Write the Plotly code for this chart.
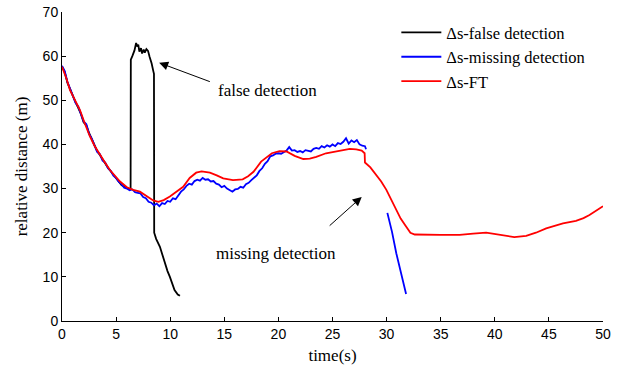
import plotly.graph_objects as go

# ---- data ----
ft_t = [0, 0.4, 0.74, 1.2, 1.66, 2.1, 2.58, 3.0, 3.5, 4.0, 4.43, 4.9, 5.36, 6.0, 6.58, 7.2, 7.8, 8.43, 8.9, 9.4,
        9.97, 10.6, 11.2, 11.8, 12.4, 12.9, 13.67, 14.3, 14.9, 15.8, 16.7, 17.2, 17.7, 18.4, 19.0, 19.4, 20.1, 20.75,
        21.5, 22.3, 22.9, 23.5, 24.4, 25.5, 26.6, 27.2, 27.7, 27.97, 28.0, 28.5, 29.06, 29.5, 29.98, 30.4, 30.9, 31.3,
        31.8, 32.2, 32.6, 33.5, 35.0, 36.75, 37.05, 38.0, 39.2, 40.1, 41.0, 41.8, 42.9, 43.8, 44.75, 45.5, 46.3,
        47.5, 48.2, 48.75, 49.5, 50.0]
ft_y = [57.6, 55.0, 52.3, 50.0, 47.8, 44.8, 41.8, 39.7, 37.6, 35.8, 34.2, 32.8, 31.6, 30.3, 29.7, 29.3, 28.3, 27.3,
        27.0, 27.4, 28.2, 29.3, 30.4, 32.4, 33.6, 33.9, 33.6, 33.0, 32.3, 31.9, 32.1, 32.8, 33.8, 36.1, 37.3, 38.0,
        38.5, 38.4, 37.4, 36.7, 36.8, 37.2, 38.0, 38.5, 39.0, 38.9, 38.6, 38.0, 35.9, 34.8, 33.1, 31.6, 29.7, 27.6,
        25.1, 23.2, 21.4, 20.0, 19.6, 19.5, 19.5, 19.5, 19.6, 19.8, 20.0, 19.7, 19.3, 19.0, 19.3, 20.0, 21.0, 21.6,
        22.1, 22.7, 23.3, 24.0, 25.1, 26.0]

md_t = [0, 0.25, 0.5, 0.75, 1.0, 1.25, 1.5, 1.75, 2.0, 2.25, 2.5, 2.75, 3.0, 3.25, 3.5, 3.75, 4.0, 4.25, 4.5, 4.75,
        5.0, 5.25, 5.5, 5.75, 6.0, 6.25, 6.5, 6.75, 7.0, 7.25, 7.5, 7.75, 8.0, 8.25, 8.5, 8.75, 9.0, 9.25, 9.5, 9.75,
        10.0, 10.25, 10.5, 10.75, 11.0, 11.25, 11.5, 11.75, 12.0, 12.25, 12.5, 12.75, 13.0, 13.25, 13.5, 13.75, 14.0,
        14.25, 14.5, 14.75, 15.0, 15.25, 15.5, 15.75, 16.0, 16.25, 16.5, 16.75, 17.0, 17.25, 17.5, 17.75, 18.0,
        18.25, 18.5, 18.75, 19.0, 19.25, 19.5, 19.75, 20.0, 20.25, 20.5, 20.75, 21.0, 21.25, 21.5, 21.75, 22.0,
        22.25, 22.5, 22.75, 23.0, 23.25, 23.5, 23.75, 24.0, 24.25, 24.5, 24.75, 25.0, 25.25, 25.5, 25.75, 26.0,
        26.25, 26.5, 26.75, 27.0, 27.25, 27.5, 27.75, 28.0, 28.1,
        None,
        30.07, 30.5, 30.9, 31.3, 31.6, 31.8]
md_y = [57.8, 56.6, 54.2, 52.6, 51.3, 49.4, 48.6, 46.8, 45.2, 44.6, 42.4, 41.3, 39.9, 38.3, 37.8, 36.3, 35.9, 34.6,
        34.0, 32.9, 32.4, 31.5, 31.0, 30.2, 30.0, 29.6, 29.8, 29.2, 29.0, 28.9, 28.1, 27.8, 27.0, 26.8, 26.2, 26.6,
        26.0, 26.7, 26.5, 27.2, 27.0, 27.8, 27.6, 28.6, 29.3, 29.8, 30.6, 31.1, 30.9, 31.7, 32.0, 31.8, 32.4, 32.0,
        32.1, 31.6, 31.7, 31.1, 30.9, 30.3, 30.6, 30.0, 29.6, 29.3, 29.8, 29.9, 30.4, 30.2, 31.0, 31.3, 31.9, 32.5,
        33.0, 34.0, 34.6, 35.6, 36.2, 37.3, 37.5, 37.9, 38.0, 37.9, 38.3, 38.6, 39.4, 38.6, 38.7, 38.3, 38.5, 38.2,
        38.7, 38.6, 38.4, 39.0, 39.2, 39.0, 39.6, 39.3, 39.8, 39.5, 40.0, 39.6, 40.3, 40.1, 40.6, 41.4, 40.2, 40.9,
        40.5, 41.0, 40.0, 39.7, 39.6, 38.9,
        None,
        24.5, 20.2, 15.3, 11.2, 8.2, 6.1]

fd_t = [0, 0.25, 0.5, 0.75, 1.0, 1.25, 1.5, 1.75, 2.0, 2.25, 2.5, 2.75, 3.0, 3.25, 3.5, 3.75, 4.0, 4.25, 4.5, 4.75,
        5.0, 5.25, 5.5, 5.75, 6.0, 6.2, 6.34, 6.36, 6.5, 6.6, 6.7, 6.85, 6.95, 7.05, 7.15, 7.3, 7.4, 7.55, 7.65,
        7.8, 7.95, 8.1, 8.28, 8.45, 8.5, 8.52, 8.7, 9.05, 9.3, 9.5, 9.75, 9.97, 10.2, 10.4, 10.7, 10.9]
fd_y = [57.7, 56.4, 54.0, 52.4, 51.1, 49.6, 48.3, 46.9, 45.0, 44.3, 42.6, 41.1, 39.8, 38.5, 37.6, 36.5, 35.7, 34.7,
        33.9, 33.1, 32.3, 31.7, 30.8, 30.4, 30.1, 29.9, 30.0, 59.2, 60.0, 60.5, 61.3, 63.0, 62.2, 62.6, 61.0, 61.8,
        60.6, 61.5, 60.8, 61.6, 61.2, 59.8, 58.4, 56.5, 56.0, 20.0, 18.6, 16.8, 14.8, 13.1, 11.3, 10.0, 8.4, 7.0,
        6.0, 5.7]

x_ticks = [0, 5, 10, 15, 20, 25, 30, 35, 40, 45, 50]
y_ticks = [0, 10, 20, 30, 40, 50, 60, 70]

serif = "Liberation Serif, Times New Roman, serif"
sans = "Liberation Sans, Arial, sans-serif"

fig = go.Figure()
fig.add_trace(go.Scatter(x=fd_t, y=fd_y, mode="lines", name="Δs-false detection",
                         line=dict(color="#000000", width=1.8)))
fig.add_trace(go.Scatter(x=md_t, y=md_y, mode="lines", name="Δs-missing detection",
                         line=dict(color="#0000ff", width=1.8), connectgaps=False))
fig.add_trace(go.Scatter(x=ft_t, y=ft_y, mode="lines", name="Δs-FT",
                         line=dict(color="#ff0000", width=1.8)))

# arrows
fig.add_annotation(x=8.98, y=58.5, ax=13.8, ay=54.1, xref="x", yref="y", axref="x", ayref="y",
                   text="", showarrow=True, arrowhead=2, arrowsize=1.8, arrowwidth=1, arrowcolor="#000")
fig.add_annotation(x=27.7, y=28.1, ax=24.6, ay=21.3, xref="x", yref="y", axref="x", ayref="y",
                   text="", showarrow=True, arrowhead=2, arrowsize=1.8, arrowwidth=1, arrowcolor="#000")
fig.add_annotation(x=19.0, y=52.3, xref="x", yref="y", text="false detection", showarrow=False,
                   font=dict(family=serif, size=17, color="#000"))
fig.add_annotation(x=19.8, y=15.4, xref="x", yref="y", text="missing detection", showarrow=False,
                   font=dict(family=serif, size=17, color="#000"))

fig.update_layout(
    width=624, height=369,
    margin=dict(l=62, r=21, t=12, b=48, autoexpand=False),
    paper_bgcolor="white", plot_bgcolor="white",
    showlegend=True,
    legend=dict(x=0.618, y=0.99, xanchor="left", yanchor="top", bgcolor="rgba(0,0,0,0)",
                itemwidth=40,
                font=dict(family=serif, size=16.5, color="#000"), tracegroupgap=0),
    font=dict(family=sans, size=14, color="#000"),
)
fig.update_xaxes(range=[0, 50], tickvals=x_ticks, ticktext=[str(v) for v in x_ticks], automargin=False,
                 showline=True, linecolor="#000", linewidth=1, ticks="inside", ticklen=4, tickcolor="#000",
                 showgrid=False, zeroline=False, mirror=False,
                 title=dict(text="time(s)", font=dict(family=serif, size=17, color="#000"), standoff=8),
                 tickfont=dict(family=sans, size=14, color="#000"))
fig.update_yaxes(range=[0, 70], tickvals=y_ticks, ticktext=[str(v) for v in y_ticks], automargin=False,
                 showline=True, linecolor="#000", linewidth=1, ticks="inside", ticklen=4, tickcolor="#000",
                 showgrid=False, zeroline=False, mirror=False,
                 title=dict(text="relative distance (m)", font=dict(family=serif, size=17, color="#000"), standoff=10),
                 tickfont=dict(family=sans, size=14, color="#000"))

fig.write_html("out.html", config={"displayModeBar": False},
               post_script="document.body.style.margin='0';document.body.style.overflow='hidden';")
